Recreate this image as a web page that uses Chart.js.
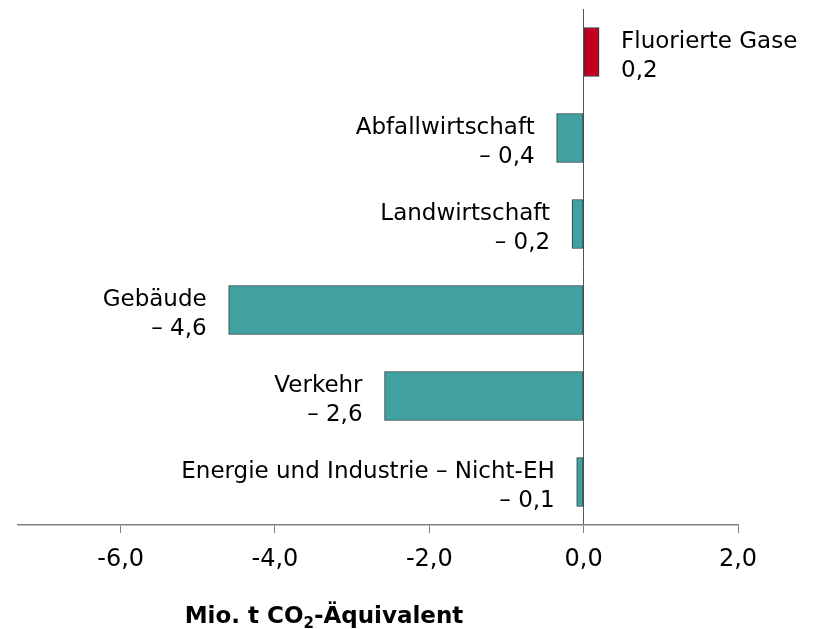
<!DOCTYPE html>
<html>
<head>
<meta charset="utf-8">
<script src="https://cdn.jsdelivr.net/npm/chart.js@4.4.0/dist/chart.umd.min.js"></script>
<style>
html,body{margin:0;padding:0;background:#fff;}
canvas{display:block;}
</style>
</head>
<body>
<canvas id="c" width="817" height="629"></canvas>
<script>
const categories = ["Fluorierte Gase", "Abfallwirtschaft", "Landwirtschaft", "Gebäude", "Verkehr", "Energie und Industrie – Nicht-EH"];
const values = [0.2, -0.35, -0.15, -4.6, -2.58, -0.09];
const valueLabels = ["0,2", "– 0,4", "– 0,2", "– 4,6", "– 2,6", "– 0,1"];
const barColors = ["#c0001e", "#41a0a0", "#41a0a0", "#41a0a0", "#41a0a0", "#41a0a0"];
const tickValues = [-6, -4, -2, 0, 2];
const tickLabels = ["-6,0", "-4,0", "-2,0", "0,0", "2,0"];
const axisTitleParts = ["Mio. t CO", "2", "-Äquivalent"];

const labelPlugin = {
  id: 'barLabels',
  afterDatasetsDraw(chart) {
    const ctx = chart.ctx;
    const meta = chart.getDatasetMeta(0);
    ctx.save();
    ctx.font = '23px "DejaVu Sans"';
    ctx.fillStyle = '#000';
    ctx.textBaseline = 'alphabetic';
    meta.data.forEach((bar, i) => {
      const v = values[i];
      const y = bar.y;
      let x;
      if (v >= 0) {
        ctx.textAlign = 'left';
        x = bar.x + 22;
      } else {
        ctx.textAlign = 'right';
        x = bar.x - 22;
      }
      ctx.fillText(categories[i], x, y - 4);
      ctx.fillText(valueLabels[i], x, y + 25);
    });
    // axis title with subscript
    const big = 'bold 23px "DejaVu Sans"';
    const small = 'bold 15px "DejaVu Sans"';
    ctx.textAlign = 'left';
    ctx.font = big;
    const w0 = ctx.measureText(axisTitleParts[0]).width;
    const w2 = ctx.measureText(axisTitleParts[2]).width;
    ctx.font = small;
    const w1 = ctx.measureText(axisTitleParts[1]).width;
    const total = w0 + w1 + w2;
    let x = 324 - total / 2;
    const base = 623;
    ctx.font = big;
    ctx.fillText(axisTitleParts[0], x, base);
    x += w0;
    ctx.font = small;
    ctx.fillText(axisTitleParts[1], x, base + 5);
    x += w1;
    ctx.font = big;
    ctx.fillText(axisTitleParts[2], x, base);
    ctx.restore();
  }
};

new Chart(document.getElementById('c'), {
  type: 'bar',
  data: {
    labels: categories,
    datasets: [{
      data: values,
      backgroundColor: barColors,
      borderColor: '#2a3a3a',
      borderWidth: 1,
      borderSkipped: false,
      barThickness: 49
    }]
  },
  options: {
    indexAxis: 'y',
    responsive: false,
    animation: false,
    layout: { padding: { left: 18, right: 79, top: 9, bottom: 0 } },
    plugins: { legend: { display: false }, tooltip: { enabled: false }, title: { display: false } },
    scales: {
      x: {
        min: -7.33,
        max: 2,
        afterBuildTicks(scale) { scale.ticks = tickValues.map(v => ({ value: v })); },
        afterFit(scale) { scale.height = 104; },
        border: { display: true, color: '#808080', width: 1.5 },
        grid: {
          drawOnChartArea: true,
          drawTicks: true,
          tickLength: 8,
          color: (c) => (c.tick && c.tick.value === 0) ? '#555555' : 'rgba(0,0,0,0)',
          tickColor: '#808080',
          lineWidth: 1
        },
        ticks: {
          padding: 12,
          color: '#000',
          font: { family: '"DejaVu Sans"', size: 24 },
          callback: (v) => { const i = tickValues.indexOf(v); return i >= 0 ? tickLabels[i] : ''; }
        }
      },
      y: {
        display: false
      }
    }
  },
  plugins: [labelPlugin]
});
</script>
</body>
</html>
